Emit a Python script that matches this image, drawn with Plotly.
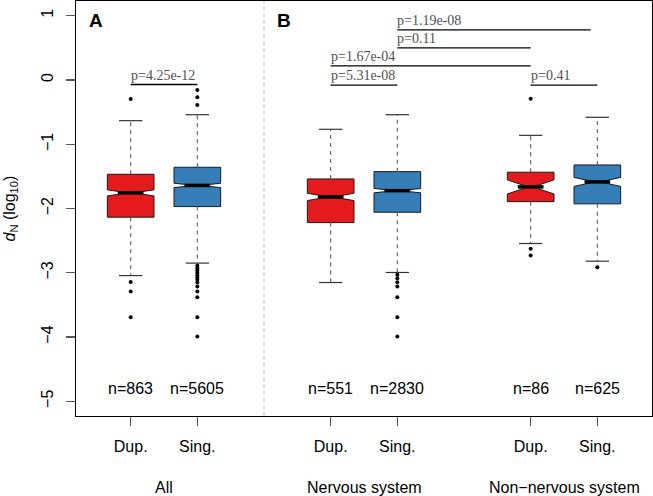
import plotly.graph_objects as go

# ---------------- data ----------------
positions = [1, 2, 4, 5, 7, 8]
tick_labels = ["Dup.", "Sing.", "Dup.", "Sing.", "Dup.", "Sing."]
group_names = ["All", "Nervous system", "Non\u2212nervous system"]
group_centers = [1.5, 4.5, 7.5]
n_labels = ["n=863", "n=5605", "n=551", "n=2830", "n=86", "n=625"]
kind = ["Dup", "Sing", "Dup", "Sing", "Dup", "Sing"]

q1 = [-2.135, -1.970, -2.219, -2.058, -1.893, -1.928]
median = [-1.757, -1.641, -1.820, -1.722, -1.664, -1.586]
q3 = [-1.467, -1.358, -1.540, -1.426, -1.435, -1.322]
lower_whisker = [-3.044, -2.850, -3.152, -2.996, -2.545, -2.820]
upper_whisker = [-0.633, -0.540, -0.767, -0.540, -0.861, -0.580]
notch_half = [0.047, 0.034, 0.057, 0.034, 0.110, 0.070]
outliers = [
    [-0.295, -3.146, -3.292, -3.691],
    [-0.156, -0.269, -0.389, -2.893, -2.929, -2.966, -3.002, -3.038, -3.075,
     -3.110, -3.152, -3.214, -3.292, -3.380, -3.691, -3.992],
    [],
    [-3.033, -3.084, -3.147, -3.214, -3.380, -3.691, -3.992],
    [-0.291, -2.628, -2.732],
    [-2.913],
]

p_labels = ["p=4.25e-12", "p=5.31e-08", "p=1.67e-04", "p=0.11", "p=1.19e-08", "p=0.41"]
p_x0 = [1, 4, 4, 5, 5, 7]
p_x1 = [2, 5, 7, 7, 7.9, 8]
p_y = [-0.07, -0.08, 0.22, 0.50, 0.78, -0.08]

panel_labels = ["A", "B"]
panel_x = [0.48, 3.30]
panel_y = [0.92, 0.92]
separator_x = [3]

y_ticks = [-5, -4, -3, -2, -1, 0, 1]

# ---------------- style ----------------
colors = {"Dup": "#E41A1C", "Sing": "#377EB8"}
BOX_W = 0.70
NOTCH_W = 0.45
CAP_HALF = 0.175
SANS = "Liberation Sans, Arial, Helvetica, sans-serif"
SERIF = "Liberation Serif, Times New Roman, serif"

fig = go.Figure()

# boxes (whiskers drawn separately as dashed lines, R style)
for i, p in enumerate(positions):
    fig.add_trace(go.Box(
        x=[p], q1=[q1[i]], median=[median[i]], q3=[q3[i]],
        lowerfence=[q1[i]], upperfence=[q3[i]],
        notchspan=[notch_half[i]], notched=True, notchwidth=NOTCH_W,
        width=BOX_W, whiskerwidth=0,
        fillcolor=colors[kind[i]],
        line=dict(color="#1a1a1a", width=1),
        boxpoints=False, showlegend=False, hoverinfo="skip",
    ))

# dashed whiskers
wx, wy = [], []
for i, p in enumerate(positions):
    wx += [p, p, None, p, p, None]
    wy += [q3[i], upper_whisker[i], None, q1[i], lower_whisker[i], None]
fig.add_trace(go.Scatter(x=wx, y=wy, mode="lines",
                         line=dict(color="#666666", width=1.2, dash="4px,4px"),
                         showlegend=False, hoverinfo="skip"))

# whisker caps
cx, cy = [], []
for i, p in enumerate(positions):
    for v in (upper_whisker[i], lower_whisker[i]):
        cx += [p - CAP_HALF, p + CAP_HALF, None]
        cy += [v, v, None]
fig.add_trace(go.Scatter(x=cx, y=cy, mode="lines",
                         line=dict(color="#333333", width=1.2),
                         showlegend=False, hoverinfo="skip"))

# thick medians
mx, my = [], []
half_in = BOX_W / 2 * (1 - NOTCH_W)
for i, p in enumerate(positions):
    mx += [p - half_in, p + half_in, None]
    my += [median[i], median[i], None]
fig.add_trace(go.Scatter(x=mx, y=my, mode="lines",
                         line=dict(color="black", width=3.5),
                         showlegend=False, hoverinfo="skip"))

# outliers
ox, oy = [], []
for i, p in enumerate(positions):
    ox += [p] * len(outliers[i])
    oy += outliers[i]
fig.add_trace(go.Scatter(x=ox, y=oy, mode="markers",
                         marker=dict(color="black", size=4),
                         showlegend=False, hoverinfo="skip"))

# p-value brackets
bx, by = [], []
for a, b, y in zip(p_x0, p_x1, p_y):
    bx += [a, b, None]
    by += [y, y, None]
fig.add_trace(go.Scatter(x=bx, y=by, mode="lines",
                         line=dict(color="black", width=1.3),
                         showlegend=False, hoverinfo="skip"))

annotations = []
for lab, a, y in zip(p_labels, p_x0, p_y):
    annotations.append(dict(x=a, y=y, xref="x", yref="y", text=lab,
                            showarrow=False, xanchor="left", yanchor="bottom",
                            xshift=-2, yshift=0,
                            font=dict(family=SERIF, size=14, color="#505050")))
for lab, p in zip(n_labels, positions):
    annotations.append(dict(x=p, y=-4.8, xref="x", yref="y", text=lab,
                            showarrow=False, xanchor="center", yanchor="middle",
                            font=dict(family=SANS, size=16, color="black")))
for g, c in zip(group_names, group_centers):
    annotations.append(dict(x=c, y=0, xref="x", yref="paper", text=g,
                            showarrow=False, xanchor="center", yanchor="middle",
                            yshift=-71,
                            font=dict(family=SANS, size=16, color="black")))
for lab, x, y in zip(panel_labels, panel_x, panel_y):
    annotations.append(dict(x=x, y=y, xref="x", yref="y", text="<b>%s</b>" % lab,
                            showarrow=False, xanchor="center", yanchor="middle",
                            font=dict(family=SANS, size=19, color="black")))
annotations.append(dict(x=0, y=0.5, xref="paper", yref="paper",
                        text="<i>d</i><sub>N</sub> (log<sub>10</sub>)",
                        showarrow=False, textangle=-90, xanchor="center",
                        yanchor="middle", xshift=-66,
                        font=dict(family=SANS, size=16, color="black")))

shapes = [dict(type="line", xref="x", yref="paper", x0=s, x1=s, y0=0, y1=1,
               line=dict(color="#bbbbbb", width=1, dash="4px,3px"))
          for s in separator_x]

fig.update_layout(
    width=653, height=496,
    margin=dict(l=76, r=1, t=1, b=80),
    paper_bgcolor="white", plot_bgcolor="white",
    showlegend=False,
    annotations=annotations, shapes=shapes,
    xaxis=dict(range=[0.18, 8.82], tickvals=positions, ticktext=tick_labels,
               showgrid=False, zeroline=False, showline=True, mirror=True,
               linecolor="black", linewidth=1.2, ticks="outside", ticklen=9,
               tickcolor="#555555", tickwidth=1.2, ticklabelstandoff=7,
               tickfont=dict(family=SANS, size=16, color="black")),
    yaxis=dict(range=[-5.23, 1.23], tickvals=y_ticks,
               ticktext=[str(v).replace("-", "\u2212") for v in y_ticks],
               tickangle=-90,
               showgrid=False, zeroline=False, showline=True, mirror=True,
               linecolor="black", linewidth=1.2, ticks="outside", ticklen=9,
               tickcolor="#555555", tickwidth=1.2, ticklabelstandoff=6,
               tickfont=dict(family=SANS, size=16, color="black")),
)

fig.write_html("out.html",
               config={"displayModeBar": False, "staticPlot": True},
               post_script="document.body.style.margin='0px';document.body.style.padding='0px';")
